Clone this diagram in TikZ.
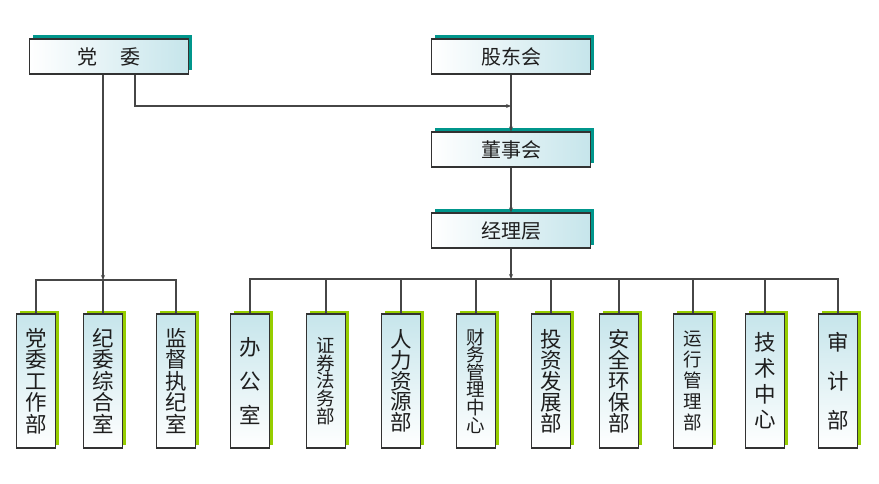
\documentclass[tikz,border=0pt]{standalone}
\usepackage{fontspec}
\setmainfont{Noto Sans CJK SC}
\usetikzlibrary{arrows.meta,shadows}
\definecolor{boxline}{RGB}{50,50,50}
\definecolor{linkgray}{RGB}{70,70,70}
\definecolor{boxcyan}{RGB}{198,229,235}
\definecolor{shteal}{RGB}{0,150,140}
\definecolor{shgreen}{RGB}{150,205,0}
\definecolor{txt}{RGB}{30,30,30}
\tikzset{
  topbox/.style={draw=boxline, line width=1.1pt, left color=white, right color=boxcyan,
    minimum width=159pt, minimum height=35pt, inner sep=0pt, text=txt,
    font=\fontsize{20}{22}\selectfont,
    general shadow={fill=shteal, shadow xshift=3.5pt, shadow yshift=3.5pt}},
  lowbox/.style={draw=boxline, line width=1.1pt, bottom color=white, top color=boxcyan,
    minimum width=39pt, minimum height=134pt, inner sep=0pt, align=center, text=txt,
    general shadow={fill=shgreen, shadow xshift=3.5pt, shadow yshift=3.5pt}},
  link/.style={draw=linkgray, line width=1.2pt},
  tip/.style={-{Stealth[length=5pt,width=4pt]}}
}
\newcommand\vfont[2]{\fontsize{#1}{#2}\selectfont}
\begin{document}
\begin{tikzpicture}[x=1pt, y=-1pt]
\useasboundingbox (0,0) rectangle (879,484);
% top level
\node[topbox] (dw) at (109,56.5) {党\hspace{1.2em}委};
\node[topbox] (gd) at (511,56.5) {股东会};
\node[topbox] (ds) at (511,149.5) {董事会};
\node[topbox] (jl) at (511,230.5) {经理层};
% departments
\node[lowbox, font=\vfont{21.5}{21.5}] (b1) at (36,381) {党\\委\\工\\作\\部};
\node[lowbox, font=\vfont{21.5}{21.5}] (b2) at (103,381) {纪\\委\\综\\合\\室};
\node[lowbox, font=\vfont{21.5}{21.5}] (b3) at (176,381) {监\\督\\执\\纪\\室};
\node[lowbox, font=\vfont{21.5}{34}] (b4) at (250,381) {办\\公\\室};
\node[lowbox, font=\vfont{18.5}{17.8}] (b5) at (326,381) {证\\券\\法\\务\\部};
\node[lowbox, font=\vfont{21.5}{20.8}] (b6) at (401,381) {人\\力\\资\\源\\部};
\node[lowbox, font=\vfont{18.5}{17.6}] (b7) at (476,381) {财\\务\\管\\理\\中\\心};
\node[lowbox, font=\vfont{21.5}{21}] (b8) at (551,381) {投\\资\\发\\展\\部};
\node[lowbox, font=\vfont{21.5}{21}] (b9) at (619,381) {安\\全\\环\\保\\部};
\node[lowbox, font=\vfont{18.5}{21}] (b10) at (693,381) {运\\行\\管\\理\\部};
\node[lowbox, font=\vfont{21.5}{25.7}] (b11) at (765,381) {技\\术\\中\\心};
\node[lowbox, font=\vfont{21.5}{39}] (b12) at (838,381) {审\\计\\部};
\coordinate (mid) at (511,106);
\coordinate (lbus) at (103,280);
\coordinate (rbus) at (511,279);
% connectors
\draw[link, tip] ([xshift=26pt]dw.south) |- (mid);
\path[link, tip] (gd) edge (ds);
\path[link, tip] (ds) edge (jl);
\draw[link, tip] (dw.south -| lbus) -- (lbus);
\draw[link, tip] (jl) -- (rbus);
\draw[link] (b1.north) |- (lbus) -| (b3.north);
\draw[link] (b2) -- (lbus);
\draw[link] (b4.north) |- (rbus) -| (b12.north);
\foreach \n in {5,...,11}
  \draw[link] (b\n.north) -- (b\n.north |- rbus);
\end{tikzpicture}
\end{document}
